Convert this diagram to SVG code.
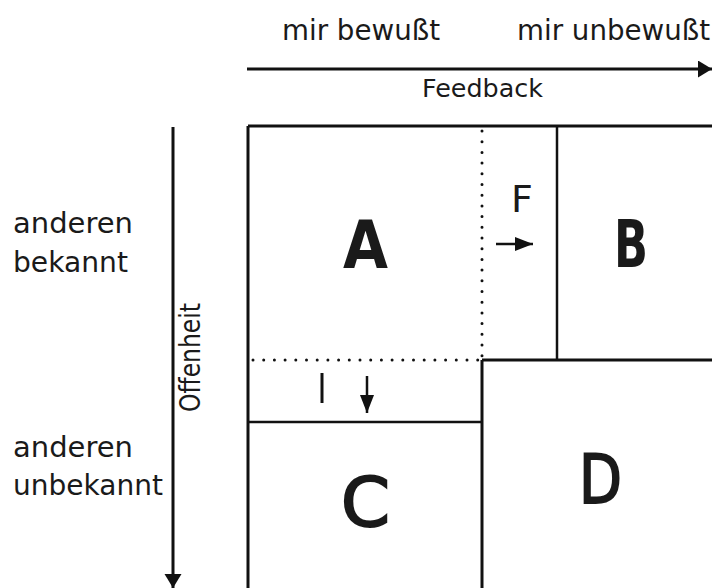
<svg xmlns="http://www.w3.org/2000/svg" width="712" height="588" viewBox="0 0 712 588">
<style>
  text { font-family: "DejaVu Sans", "Liberation Sans", sans-serif; fill: #1a1a1a; }
  .lbl { font-size: 28px; }
  .axis { font-size: 25px; }
  .vert { font-size: 28px; }
  .big { font-size: 66px; font-weight: bold; }
  .mid { font-size: 67px; font-weight: normal; stroke: #1a1a1a; stroke-width: 2; }
  .small { font-size: 38px; }
  .solid { stroke: #111; stroke-width: 3; fill: none; }
  .thin { stroke: #111; stroke-width: 2.5; fill: none; }
  .dot { stroke: #111; stroke-width: 3; stroke-linecap: round; stroke-dasharray: 0 10.7; fill: none; }
</style>
<defs>
  <marker id="headBig" markerUnits="userSpaceOnUse" markerWidth="16" markerHeight="18" refX="14" refY="8.5" orient="auto">
    <path d="M0,0 L14,8.5 L0,17 Z" fill="#111"/>
  </marker>
  <marker id="headSmall" markerUnits="userSpaceOnUse" markerWidth="20" markerHeight="16" refX="18" refY="7" orient="auto">
    <path d="M0,0 L18,7 L0,14 Z" fill="#111"/>
  </marker>
</defs>
<rect width="712" height="588" fill="#fff"/>

<g id="connectors">
  <line id="feedback-axis" x1="247" y1="69" x2="712" y2="69" class="solid" marker-end="url(#headBig)"/>
  <line id="offenheit-axis" x1="173" y1="127" x2="173" y2="588" class="solid" marker-end="url(#headBig)"/>
  <line id="arrow-F" x1="496" y1="244" x2="533" y2="244" class="thin" marker-end="url(#headSmall)"/>
  <line id="arrow-I" x1="367" y1="376" x2="367" y2="413" class="thin" marker-end="url(#headSmall)"/>
</g>

<g id="axis-labels">
  <text class="lbl" x="282" y="40" textLength="158" lengthAdjust="spacingAndGlyphs">mir bewußt</text>
  <text class="lbl" x="517" y="40" textLength="193" lengthAdjust="spacingAndGlyphs">mir unbewußt</text>
  <text class="axis" x="422" y="97" textLength="121" lengthAdjust="spacingAndGlyphs">Feedback</text>
  <text class="lbl" x="13" y="233" textLength="120" lengthAdjust="spacingAndGlyphs">anderen</text>
  <text class="lbl" x="13" y="272" textLength="115" lengthAdjust="spacingAndGlyphs">bekannt</text>
  <text class="lbl" x="13" y="457" textLength="120" lengthAdjust="spacingAndGlyphs">anderen</text>
  <text class="lbl" x="13" y="495" textLength="150" lengthAdjust="spacingAndGlyphs">unbekannt</text>
  <text class="vert" transform="translate(200,412) rotate(-90)" x="0" y="0" textLength="109" lengthAdjust="spacingAndGlyphs">Offenheit</text>
</g>

<g id="frame">
  <line x1="248" y1="126" x2="712" y2="126" class="solid"/>
  <line x1="248" y1="126" x2="248" y2="588" class="solid"/>
</g>

<g id="node-A">
  <line x1="482" y1="131" x2="482" y2="357" class="dot"/>
  <line x1="253" y1="360" x2="479" y2="360" class="dot"/>
  <text class="big" x="343" y="268" textLength="45" lengthAdjust="spacingAndGlyphs">A</text>
</g>

<g id="node-F">
  <text class="small" x="511" y="212">F</text>
</g>

<g id="node-B">
  <line x1="557" y1="126" x2="557" y2="360" class="thin"/>
  <text class="big" x="614" y="267" textLength="34" lengthAdjust="spacingAndGlyphs">B</text>
</g>

<g id="node-I">
  <line x1="322" y1="373" x2="322" y2="403" stroke="#111" stroke-width="3"/>
</g>

<g id="node-C">
  <line x1="248" y1="422" x2="482" y2="422" class="thin"/>
  <text class="mid" x="341" y="526" textLength="49" lengthAdjust="spacingAndGlyphs">C</text>
</g>

<g id="node-D">
  <line x1="482" y1="360" x2="712" y2="360" class="solid"/>
  <line x1="482" y1="360" x2="482" y2="588" class="solid"/>
  <text class="mid" x="579" y="503" textLength="43" lengthAdjust="spacingAndGlyphs">D</text>
</g>
</svg>
